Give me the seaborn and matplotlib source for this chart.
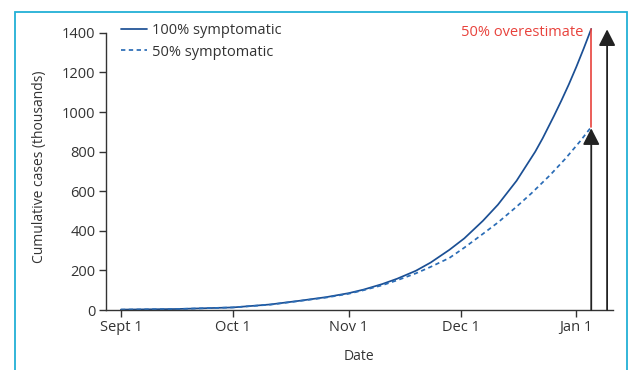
import matplotlib
matplotlib.use("Agg")
import matplotlib.pyplot as plt
import seaborn as sns
import pandas as pd
from matplotlib.patches import Rectangle

# ---- data ----
dates100 = ["2020-09-01", "2020-09-16", "2020-10-01", "2020-10-11", "2020-10-19",
            "2020-10-26", "2020-11-01", "2020-11-05", "2020-11-10", "2020-11-14",
            "2020-11-19", "2020-11-23", "2020-11-28", "2020-12-02", "2020-12-07",
            "2020-12-11", "2020-12-16", "2020-12-21", "2020-12-23", "2020-12-26",
            "2020-12-28", "2020-12-30", "2021-01-01", "2021-01-03", "2021-01-05"]
sym100 = [2, 5, 13, 28, 47, 65, 85, 103, 131, 158, 198, 240, 304, 362, 451,
          532, 653, 800, 868, 980, 1058, 1140, 1228, 1322, 1420]

dates50 = ["2020-09-01", "2020-09-16", "2020-10-01", "2020-10-11", "2020-10-19",
           "2020-10-26", "2020-11-01", "2020-11-05", "2020-11-10", "2020-11-14",
           "2020-11-19", "2020-11-23", "2020-11-28", "2020-12-02", "2020-12-07",
           "2020-12-11", "2020-12-16", "2020-12-20", "2020-12-25", "2020-12-29",
           "2021-01-02", "2021-01-05"]
sym50 = [2, 5, 13, 27, 46, 63, 82, 100, 125, 150, 185, 218, 263, 315, 385,
         442, 522, 590, 682, 763, 852, 925]

tick_dates = ["2020-09-01", "2020-10-01", "2020-11-01", "2020-12-01", "2021-01-01"]
tick_labels = ["Sept 1", "Oct 1", "Nov 1", "Dec 1", "Jan 1"]
y_ticks = [0, 200, 400, 600, 800, 1000, 1200, 1400]

arrow_short_date = "2021-01-05"
arrow_short_top = 918
arrow_long_date = "2021-01-09 06:00"
arrow_long_top = 1418

df100 = pd.DataFrame({"date": pd.to_datetime(dates100), "cases": sym100})
df50 = pd.DataFrame({"date": pd.to_datetime(dates50), "cases": sym50})

sns.set_theme(style="ticks")
plt.rcParams["font.family"] = ["Open Sans", "DejaVu Sans"]

fig = plt.figure(figsize=(6.3, 3.7), dpi=100)
ax = fig.add_axes([106 / 630, 1 - 310 / 370, (612.7 - 106) / 630, (310 - 23) / 370])

txt_c = "#333333"
solid_c = "#1b4f94"
dash_c = "#2a6cb6"
sns.lineplot(data=df100, x="date", y="cases", ax=ax, color=solid_c, lw=1.25,
             label="100% symptomatic")
sns.lineplot(data=df50, x="date", y="cases", ax=ax, color=dash_c, lw=1.25,
             label="50% symptomatic", linestyle=(0, (2.5, 2)))

ax.set_xlim(pd.Timestamp("2020-08-28"), pd.Timestamp("2021-01-10 18:00"))
ax.set_ylim(0, 1450)
ax.spines["left"].set_bounds(0, 1400)
ax.spines["top"].set_visible(False)
ax.spines["right"].set_visible(False)
for s in ("left", "bottom"):
    ax.spines[s].set_color(txt_c)
    ax.spines[s].set_linewidth(1.0)

ax.set_xticks(pd.to_datetime(tick_dates))
ax.set_xticklabels(tick_labels)
ax.set_yticks(y_ticks)
ax.set_yticklabels([str(v) for v in y_ticks])
ax.tick_params(axis="both", length=5, width=1.0, color=txt_c,
               labelsize=10.5, labelcolor=txt_c, pad=2.5)

ax.set_xlabel("Date", fontsize=10, color=txt_c, labelpad=10)
ax.set_ylabel("Cumulative cases (thousands)", fontsize=10, color=txt_c, labelpad=11)

# red overestimate bar
end_d = pd.Timestamp(dates100[-1])
ax.plot([end_d, end_d], [sym50[-1], sym100[-1]], color="#e8423c", lw=1.2)
ax.text(pd.Timestamp("2021-01-03"), 1400, "50% overestimate", color="#e8423c",
        fontsize=10.5, ha="right", va="center")

# arrows
for d, top in [(arrow_short_date, arrow_short_top), (arrow_long_date, arrow_long_top)]:
    ax.annotate("", xy=(pd.Timestamp(d), top), xytext=(pd.Timestamp(d), 0),
                arrowprops=dict(arrowstyle="-|>,head_length=0.55,head_width=0.28",
                                color="#222222", lw=1.3, mutation_scale=18,
                                shrinkA=0, shrinkB=0))

leg = ax.legend(loc="upper left", bbox_to_anchor=(0.03, 1.0), frameon=False,
                fontsize=10.5, handlelength=1.75, handletextpad=0.35,
                labelspacing=0.45, borderaxespad=0, borderpad=0)
for t in leg.get_texts():
    t.set_color(txt_c)

# cyan frame
fig.patches.append(Rectangle((15 / 630, -0.05), (627 - 15) / 630, 1 - 12 / 370 + 0.05,
                             transform=fig.transFigure, fill=False,
                             edgecolor="#22b0d6", lw=1.3))

fig.savefig("out.png", dpi=100)
